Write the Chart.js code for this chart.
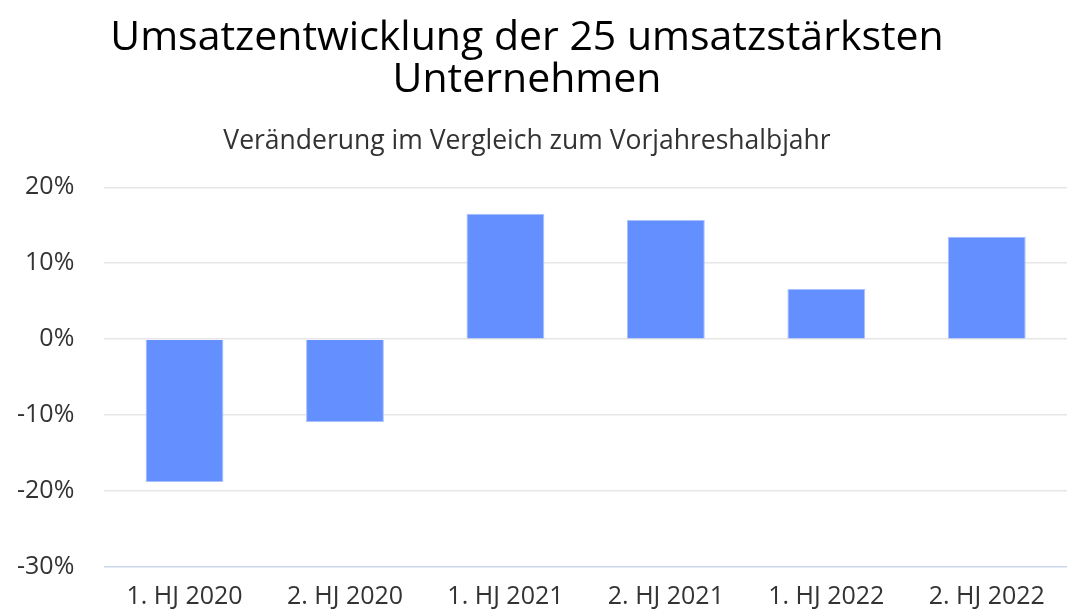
<!DOCTYPE html>
<html lang="de">
<head>
    <meta charset="UTF-8">
    <title>Umsatzentwicklung</title>
    <style>
        body { margin: 0; padding: 0; background: #ffffff; }
        #wrap { width: 1067px; height: 612px; }
    </style>
</head>
<body>
    <div id="wrap"><canvas id="chart"></canvas></div>

    <script src="https://cdn.jsdelivr.net/npm/chart.js"></script>
    <script>
        // Daten
        const categories = ['1. HJ 2020', '2. HJ 2020', '1. HJ 2021', '2. HJ 2021', '1. HJ 2022', '2. HJ 2022'];
        const changes = [-18.8, -10.9, 16.5, 15.7, 6.6, 13.5];
        const yTicks = [-30, -20, -10, 0, 10, 20];

        const ctx = document.getElementById('chart').getContext('2d');

        new Chart(ctx, {
            type: 'bar',
            data: {
                labels: categories,
                datasets: [{
                    label: 'Veränderung',
                    data: changes,
                    backgroundColor: '#648fff',
                    borderColor: '#a9c0ff',
                    borderWidth: 1,
                    categoryPercentage: 1,
                    barPercentage: 0.485
                }]
            },
            options: {
                responsive: true,
                maintainAspectRatio: false,
                animation: false,
                // die Achsen rechnen das Tick-Padding doppelt, daher negativ
                layout: { padding: { left: -13, right: 0, top: 0, bottom: -18 } },
                plugins: {
                    legend: { display: false },
                    tooltip: { enabled: false },
                    title: {
                        display: true,
                        text: ['Umsatzentwicklung der 25 umsatzstärksten', 'Unternehmen'],
                        color: '#000000',
                        font: { family: 'Open Sans', size: 41, weight: '500', lineHeight: 1.03 },
                        padding: { top: 17, bottom: 24 }
                    },
                    subtitle: {
                        display: true,
                        text: 'Veränderung im Vergleich zum Vorjahreshalbjahr',
                        color: '#333333',
                        font: { family: 'Open Sans', size: 26.5 },
                        padding: { top: 0, bottom: 30 }
                    }
                },
                scales: {
                    x: {
                        grid: { display: false, drawTicks: false },
                        border: { display: false },
                        ticks: {
                            color: '#333333',
                            font: { family: 'Open Sans', size: 25 },
                            padding: 15,
                            maxRotation: 0
                        }
                    },
                    y: {
                        min: -30,
                        max: 20,
                        afterBuildTicks: (axis) => { axis.ticks = yTicks.map(v => ({ value: v })); },
                        grid: {
                            drawTicks: false,
                            lineWidth: 1.5,
                            color: (c) => c.tick && c.tick.value === -30 ? '#ccd6eb' : '#e6e6e6'
                        },
                        border: { display: false },
                        ticks: {
                            color: '#333333',
                            font: { family: 'Open Sans', size: 25 },
                            padding: 30,
                            callback: (v) => v + '%'
                        }
                    }
                }
            }
        });
    </script>
</body>
</html>
